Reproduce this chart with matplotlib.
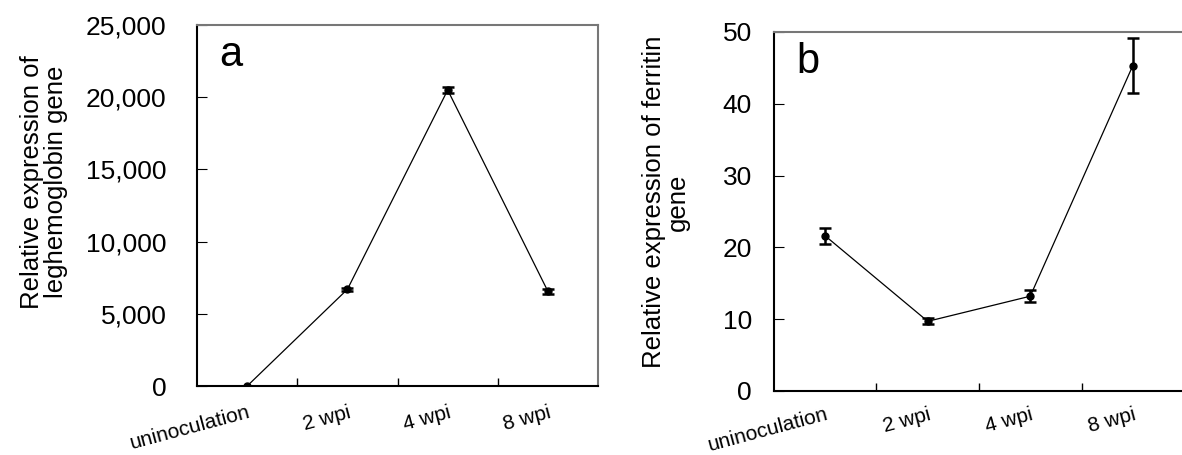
import matplotlib
matplotlib.use("Agg")
import matplotlib.pyplot as plt
from matplotlib.ticker import FuncFormatter, FixedLocator

plt.rcParams['font.family'] = ['Liberation Sans', 'DejaVu Sans']

categories = ["uninoculation", "2 wpi", "4 wpi", "8 wpi"]

# a: leghemoglobin
leg_mean = [0, 6700, 20500, 6550]
leg_err = [30, 120, 180, 170]

# b: ferritin
fer_mean = [21.6, 9.7, 13.2, 45.3]
fer_err = [1.1, 0.4, 0.8, 3.8]


def draw_panel(ax, mean, err, ymax, ystep, letter, ylabel, fmt, ypad, xpad, lab_x, lab_y):
    x = [i + 0.5 for i in range(len(categories))]
    ax.errorbar(x, mean, yerr=err, color='black', lw=0.9, marker='o', ms=5,
                elinewidth=1.8, capsize=4.5, capthick=1.8)
    ax.set_xlim(0, len(categories))
    ax.set_ylim(0, ymax)
    ax.set_yticks(range(0, ymax + 1, ystep))
    ax.yaxis.set_major_formatter(FuncFormatter(fmt))
    ax.set_xticks(x)
    ax.set_xticklabels(categories, rotation=15, ha='right', rotation_mode='anchor', fontsize=15)
    ax.xaxis.set_minor_locator(FixedLocator(range(1, len(categories))))
    ax.tick_params(axis='x', which='major', length=0, pad=xpad)
    ax.tick_params(axis='x', which='minor', direction='in', length=6, width=1)
    ax.tick_params(axis='y', direction='in', length=7, labelsize=19, pad=ypad)
    for s in ['top', 'right']:
        ax.spines[s].set_color('#777777')
        ax.spines[s].set_linewidth(1.5)
    for s in ['left', 'bottom']:
        ax.spines[s].set_color('black')
        ax.spines[s].set_linewidth(1.5)
    ax.text(0.055, 0.887, letter, transform=ax.transAxes, fontsize=30, va='baseline', ha='left')
    ax.set_ylabel(ylabel, fontsize=18.5, linespacing=1.0)
    ax.yaxis.set_label_coords(lab_x, lab_y)


fig = plt.figure(figsize=(11.82, 4.55), dpi=100)
ax1 = fig.add_axes([0.1667, 0.1516, 0.3393, 0.7934])
ax2 = fig.add_axes([0.6548, 0.1407, 0.3469, 0.789])

draw_panel(ax1, leg_mean, leg_err, 25000, 5000, "a",
           "Relative expression of\nleghemoglobin gene", lambda v, p: f"{int(v):,}",
           22, 12, -0.322, 0.565)
draw_panel(ax2, fer_mean, fer_err, 50, 10, "b",
           "Relative expression of ferritin\ngene", lambda v, p: f"{int(v)}",
           16, 10, -0.205, 0.526)

fig.savefig("out.png", dpi=100)
